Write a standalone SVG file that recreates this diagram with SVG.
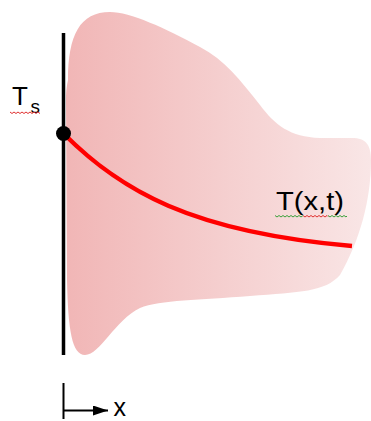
<svg xmlns="http://www.w3.org/2000/svg" width="371" height="421" viewBox="0 0 371 421">
  <defs>
    <linearGradient id="blobGrad" x1="0" y1="0" x2="1" y2="0">
      <stop offset="0" stop-color="#f1b6b6"/>
      <stop offset="1" stop-color="#f9e6e6"/>
    </linearGradient>
    <marker id="arrow" markerWidth="15" markerHeight="10" refX="15" refY="5" orient="auto" markerUnits="userSpaceOnUse">
      <path d="M0,0 L15,5 L0,10 Z" fill="#000"/>
    </marker>
  </defs>
  <style>
    .lbl { font-family: "Liberation Sans", Arial, sans-serif; fill: #000; }
    .sq { fill: none; stroke-width: 1; }
  </style>
  <rect width="371" height="421" fill="#fff"/>

  <g id="region">
    <path d="M68,80 C68,35 80,12 110,12 C130,12 165,28 200,47 C225,60 240,80 260,105 C275,125 290,137 320,138 L352,138 C366,138 371,145 371,160 C371,200 360,240 340,275 C325,292 300,292 250,296 C200,300 160,300 140,308 C115,320 100,355 85,355 C72,355 68,330 67,280 L66,100 C66,90 67,85 68,80 Z" fill="url(#blobGrad)"/>
  </g>

  <g id="wall">
    <line x1="63.5" y1="33" x2="63.5" y2="355" stroke="#000" stroke-width="3.5"/>
  </g>

  <g id="connectors">
    <path id="temperature-curve" d="M64,134 C120,190 190,232 352,246" fill="none" stroke="#ff0000" stroke-width="4.5"/>
    <line x1="63.5" y1="383" x2="63.5" y2="419" stroke="#000" stroke-width="2"/>
    <line x1="63.5" y1="410.5" x2="108" y2="410.5" stroke="#000" stroke-width="2" marker-end="url(#arrow)"/>
  </g>

  <g id="surface-point">
    <circle cx="63.5" cy="133.5" r="7.5" fill="#000"/>
  </g>

  <g id="label-ts">
    <text class="lbl" x="12" y="105" font-size="26">T</text>
    <text class="lbl" x="30.5" y="113" font-size="19">s</text>
    <path class="sq" stroke="#e03030" d="M10,112 l2,1.5 2,-1.5 2,1.5 2,-1.5 2,1.5 2,-1.5 2,1.5 2,-1.5 2,1.5 2,-1.5 2,1.5 2,-1.5 2,1.5 2,-1.5 2,1.5"/>
  </g>

  <g id="label-txt">
    <text class="lbl" x="276" y="210" font-size="25" textLength="68" lengthAdjust="spacingAndGlyphs">T(x,t)</text>
    <path class="sq" stroke="#3aa03a" d="M275,215.5 l2,1.5 2,-1.5 2,1.5 2,-1.5 2,1.5 2,-1.5 2,1.5 2,-1.5 2,1.5 2,-1.5 2,1.5 2,-1.5 2,1.5 2,-1.5"/>
    <path class="sq" stroke="#e03030" d="M303,215.5 l2,1.5 2,-1.5 2,1.5 2,-1.5 2,1.5 2,-1.5 2,1.5 2,-1.5 2,1.5 2,-1.5 2,1.5 2,-1.5 1,1"/>
    <path class="sq" stroke="#3aa03a" d="M328,215.5 l2,1.5 2,-1.5 2,1.5 2,-1.5 2,1.5 2,-1.5 2,1.5 2,-1.5 2,1.5 1,-1"/>
  </g>

  <g id="label-x">
    <text class="lbl" x="113.5" y="415.5" font-size="25">x</text>
  </g>
</svg>
